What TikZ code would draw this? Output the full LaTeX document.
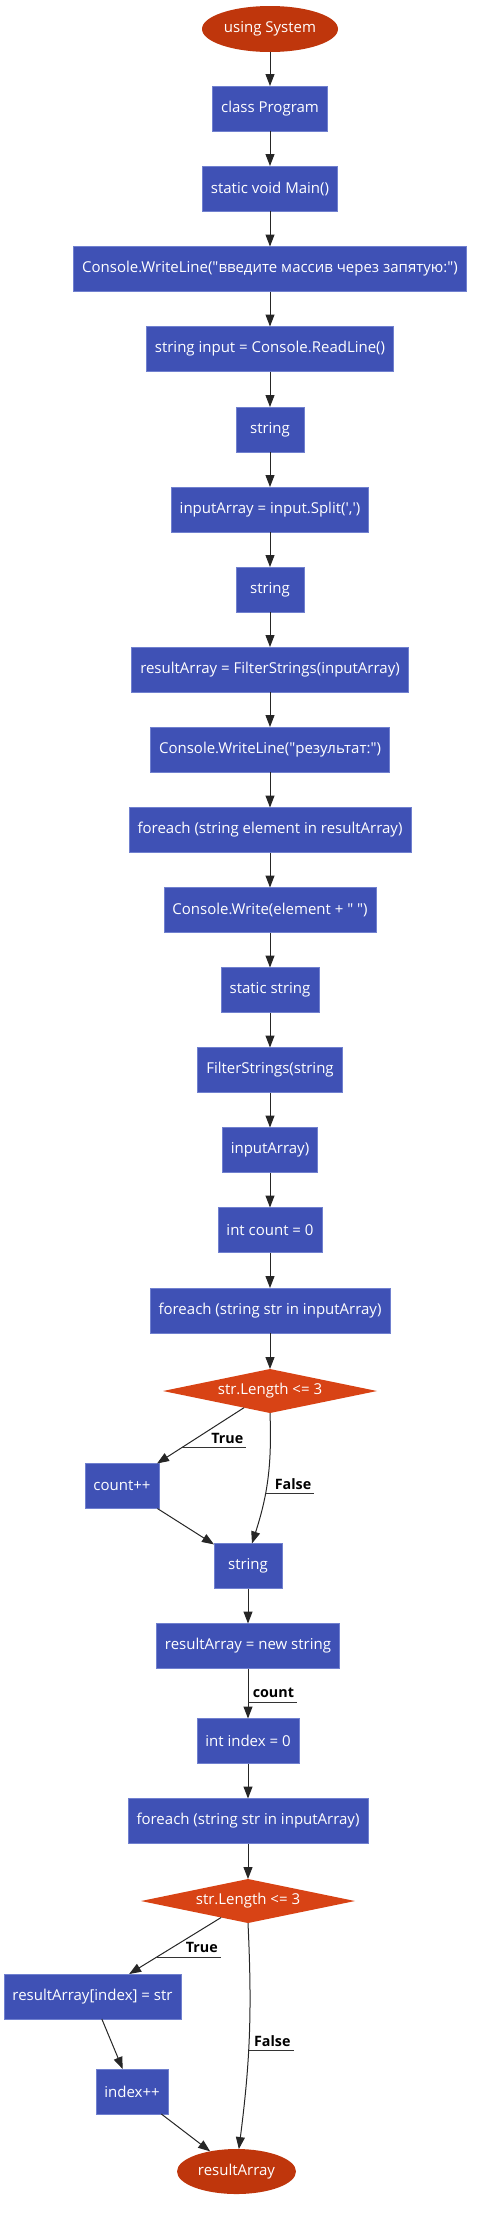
\documentclass[tikz,border=0pt]{standalone}
\usepackage{fontspec}
\setmainfont{Open Sans}[Ligatures=TeXOff]
\usepackage{tikz}
\usetikzlibrary{shapes.geometric,arrows.meta,positioning,calc}
\definecolor{boxfill}{HTML}{3F51B5}
\definecolor{boxline}{HTML}{7080CF}
\definecolor{termfill}{HTML}{BF360C}
\definecolor{testfill}{HTML}{D84315}
\newcommand{\nodefont}{\fontsize{15}{18}\selectfont}
\newcommand{\lblfont}{\fontsize{14.3}{17}\selectfont\bfseries}

\begin{document}
\begin{tikzpicture}[x=1pt,y=-1pt,
	box/.style={rectangle,fill=boxfill,draw=boxline,line width=0.6pt,text=white,font=\nodefont,
		minimum height=45pt,minimum width=68pt,inner xsep=8.5pt,outer sep=0pt},
	term/.style={ellipse,fill=termfill,text=white,font=\nodefont,inner sep=0pt,outer sep=0pt},
	test/.style={diamond,fill=testfill,text=white,font=\nodefont,aspect=4.8,
		minimum width=214pt,minimum height=44pt,inner sep=0pt,outer sep=0pt},
	flow/.style={draw=black!85,line width=1pt,-{Triangle[length=12pt,width=9pt]}},
	lbl/.style={font=\lblfont,inner xsep=3pt,inner ysep=4pt,outer sep=0pt},
	uline/.style={draw=black!80,line width=0.8pt}]
	\useasboundingbox (0,0) rectangle (483,2214);
	\node[term,minimum width=136pt,minimum height=46pt] (start) at (270,29) {using System};
	\node[box] (prog) at (270,108.5) {class Program};
	\node[box] (main) at (270,188.5) {static void Main()};
	\node[box] (ask) at (270,269) {Console.WriteLine("введите массив через запятую:")};
	\node[box] (read) at (270,349) {string input = Console.ReadLine()};
	\node[box] (strA) at (270,429.5) {string};
	\node[box] (split) at (270,509.5) {inputArray = input.Split(',')};
	\node[box] (strB) at (270,589.5) {string};
	\node[box] (filter) at (270,669.5) {resultArray = FilterStrings(inputArray)};
	\node[box] (result) at (270,749.5) {Console.WriteLine("результат:")};
	\node[box] (each) at (270,830) {foreach (string element in resultArray)};
	\node[box] (write) at (270,910) {Console.Write(element + " ")};
	\node[box] (stat) at (270,990) {static string};
	\node[box] (fname) at (270,1070) {FilterStrings(string};
	\node[box] (fargs) at (270,1150) {inputArray)};
	\node[box] (count) at (270,1230) {int count = 0};
	\node[box] (loopA) at (270,1310.5) {foreach (string str in inputArray)};
	\node[test] (testA) at (270,1391) {str.Length <= 3};
	\node[box] (incA) at (122,1486) {count++};
	\node[box] (strC) at (248,1566) {string};
	\node[box] (alloc) at (248,1646) {resultArray = new string};
	\node[box] (index) at (248,1741) {int index = 0};
	\node[box] (loopB) at (248,1821) {foreach (string str in inputArray)};
	\node[test] (testB) at (248,1901) {str.Length <= 3};
	\node[box] (store) at (92.5,1996.5) {resultArray[index] = str};
	\node[box] (incB) at (132,2091.5) {index++};
	\node[term,minimum width=119pt,minimum height=45pt] (stop) at (236.5,2171.5) {resultArray};
	\foreach \a/\b in {start/prog,prog/main,main/ask,ask/read,read/strA,strA/split,split/strB,
		strB/filter,filter/result,result/each,each/write,write/stat,stat/fname,fname/fargs,
		fargs/count,count/loopA,loopA/testA,strC/alloc,index/loopB,loopB/testB}
		\draw[flow] (\a) -- (\b);
	\draw[flow] (testA) -- coordinate[pos=0.71] (tA) (incA);
	\draw[flow] (testA.south) to[bend left=10] coordinate[pos=0.62] (fA) (strC.80);
	\draw[flow] (incA) -- (strC);
	\draw[flow] (alloc) -- coordinate[pos=0.67] (cA) (index);
	\draw[flow] (testB) -- coordinate[pos=0.70] (tB) (store);
	\draw[flow] (testB.south) to[bend left=5] coordinate[pos=0.57] (fB) (stop.84);
	\draw[flow] (store) -- (incB);
	\draw[flow] (incB) -- (stop);
	\node[lbl,anchor=south east] (tAl) at ($(tA)+(64,0)$) {True};
	\node[lbl,anchor=south east] (fAl) at ($(fA)+(49,0)$) {False};
	\node[lbl,anchor=south east] (cAl) at ($(cA)+(49,0)$) {count};
	\node[lbl,anchor=south east] (tBl) at ($(tB)+(64,0)$) {True};
	\node[lbl,anchor=south east] (fBl) at ($(fB)+(45,0)$) {False};
	\draw[uline] (tA) -- (tAl.south east);
	\draw[uline] (fA) -- (fAl.south east);
	\draw[uline] (cA) -- (cAl.south east);
	\draw[uline] (tB) -- (tBl.south east);
	\draw[uline] (fB) -- (fBl.south east);
\end{tikzpicture}
\end{document}
